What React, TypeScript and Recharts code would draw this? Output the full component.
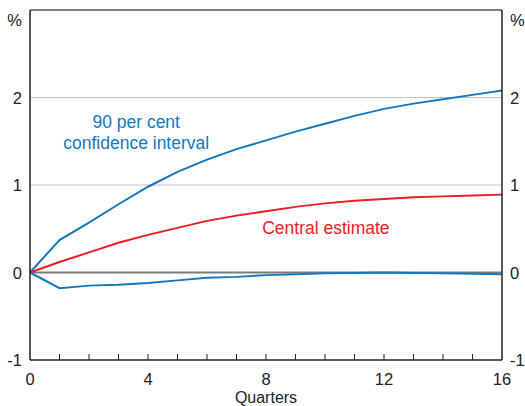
import React from 'react';
import { ComposedChart, Line, XAxis, YAxis, ReferenceLine, ReferenceDot, Label } from 'recharts';

const quarters = [0, 1, 2, 3, 4, 5, 6, 7, 8, 9, 10, 11, 12, 13, 14, 15, 16];
const upper = [0, 0.37, 0.57, 0.78, 0.98, 1.15, 1.29, 1.41, 1.51, 1.61, 1.7, 1.79, 1.87, 1.93, 1.98, 2.03, 2.08];
const central = [0, 0.12, 0.23, 0.34, 0.43, 0.51, 0.59, 0.65, 0.7, 0.75, 0.79, 0.82, 0.84, 0.86, 0.87, 0.88, 0.89];
const lower = [0, -0.18, -0.15, -0.14, -0.12, -0.09, -0.06, -0.05, -0.03, -0.02, -0.01, -0.005, 0, -0.005, -0.01, -0.015, -0.02];
const xLabelTicks = [0, 4, 8, 12, 16];
const yTicks = [-1, 0, 1, 2, 3];

const data = quarters.map((q, i) => ({ q, upper: upper[i], central: central[i], lower: lower[i] }));

const BLUE = '#1478c0';
const RED = '#ed1c24';
const FONT = 'Liberation Sans, Arial, sans-serif';

const XTick = (props: any) => {
  const { x, y, payload } = props;
  const v = payload.value;
  const showLabel = xLabelTicks.includes(v);
  return (
    <g>
      {v > 0 && v < 16 ? <line x1={x} x2={x} y1={y} y2={y - 6} stroke="#222" strokeWidth={1} /> : null}
      {showLabel ? (
        <text x={x} y={y + 25} textAnchor="middle" fill="#222" fontSize={16.5} fontFamily={FONT}>{v}</text>
      ) : null}
    </g>
  );
};

const makeYTick = (side: 'left' | 'right') => (props: any) => {
  const { x, y, payload } = props;
  const v = payload.value;
  const label = v === 3 ? '%' : String(v);
  const dy = v === 3 ? 16 : 6;
  return (
    <text x={side === 'left' ? x - 6 : x + 6} y={y + dy} textAnchor={side === 'left' ? 'end' : 'start'} fill="#222" fontSize={16.5} fontFamily={FONT}>
      {label}
    </text>
  );
};

export default function App() {
  return (
    <div style={{ position: 'fixed', left: 0, top: 0, width: 525, height: 406, background: '#fff' }}>
      <ComposedChart width={525} height={406} data={data} margin={{ top: 10, right: 0, bottom: 0, left: 0 }}>
        <XAxis
          dataKey="q"
          type="number"
          domain={[0, 16]}
          ticks={quarters}
          interval={0}
          tickLine={false}
          tickSize={0}
          tickMargin={0}
          tick={<XTick />}
          height={46}
          axisLine={{ stroke: '#222', strokeWidth: 1.5 }}
        >
          <Label value="Quarters" position="insideBottom" offset={3} fill="#222" fontSize={16} fontFamily={FONT} />
        </XAxis>
        <YAxis
          yAxisId="l"
          orientation="left"
          type="number"
          domain={[-1, 3]}
          ticks={yTicks}
          interval={0}
          width={30}
          tickLine={false}
          tickSize={0}
          tick={makeYTick('left')}
          axisLine={{ stroke: '#222', strokeWidth: 1.5 }}
        />
        <YAxis
          yAxisId="r"
          orientation="right"
          type="number"
          domain={[-1, 3]}
          ticks={yTicks}
          interval={0}
          width={23}
          tickLine={false}
          tickSize={0}
          tick={makeYTick('right')}
          axisLine={{ stroke: '#222', strokeWidth: 1.5 }}
        />
        <ReferenceLine yAxisId="l" y={1} stroke="#c4c4c4" strokeWidth={1} />
        <ReferenceLine yAxisId="l" y={2} stroke="#c4c4c4" strokeWidth={1} />
        <ReferenceLine yAxisId="r" y={3} stroke="#555" strokeWidth={1.5} />
        <ReferenceLine yAxisId="l" y={0} stroke="#7a7a7a" strokeWidth={2} />
        <Line yAxisId="r" dataKey="upper" stroke="none" strokeWidth={0} dot={false} activeDot={false} isAnimationActive={false} legendType="none" />
        <Line yAxisId="l" dataKey="upper" type="linear" stroke={BLUE} strokeWidth={2} dot={false} isAnimationActive={false} />
        <Line yAxisId="l" dataKey="lower" type="linear" stroke={BLUE} strokeWidth={2} dot={false} isAnimationActive={false} />
        <Line yAxisId="l" dataKey="central" type="linear" stroke={RED} strokeWidth={2} dot={false} isAnimationActive={false} />
        <ReferenceDot yAxisId="l" x={3.6} y={1.72} r={0} stroke="none" fill="none"
          label={{ value: '90 per cent', position: 'center', fill: BLUE, fontSize: 17.5, fontFamily: FONT }} />
        <ReferenceDot yAxisId="l" x={3.6} y={1.48} r={0} stroke="none" fill="none"
          label={{ value: 'confidence interval', position: 'center', fill: BLUE, fontSize: 17.5, fontFamily: FONT }} />
        <ReferenceDot yAxisId="l" x={10.03} y={0.51} r={0} stroke="none" fill="none"
          label={{ value: 'Central estimate', position: 'center', fill: RED, fontSize: 17.5, fontFamily: FONT }} />
      </ComposedChart>
    </div>
  );
}
